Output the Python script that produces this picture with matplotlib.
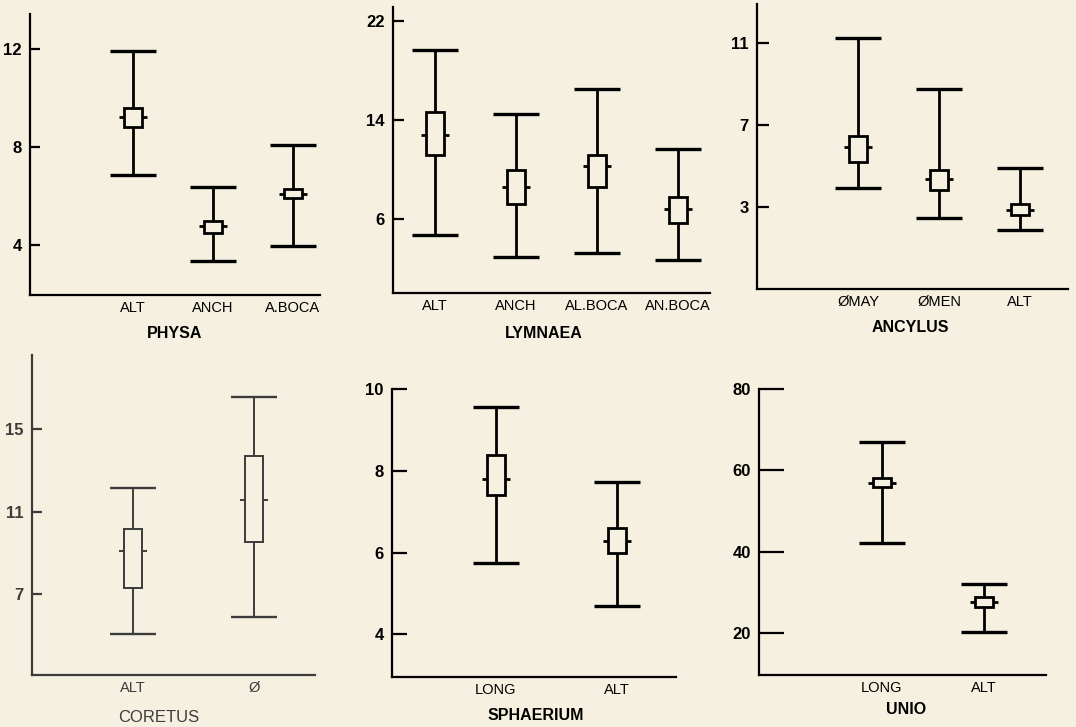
import numpy as np
import matplotlib.pyplot as plt
from matplotlib.patches import Rectangle

plt.rcParams['font.family'] = ['Liberation Sans', 'DejaVu Sans']

W, H = 1076, 727
BG = '#f5f0df'

# --- data: min, box low, mean, box high, max ---
physa_cats = ['ALT', 'ANCH', 'A.BOCA']
physa_min = [6.87, 3.35, 3.97]
physa_q1 = [8.83, 4.5, 5.9]
physa_mean = [9.24, 4.79, 6.1]
physa_q3 = [9.6, 4.99, 6.3]
physa_max = [11.93, 6.35, 8.07]

lymnaea_cats = ['ALT', 'ANCH', 'AL.BOCA', 'AN.BOCA']
lymnaea_min = [4.7, 2.97, 3.25, 2.7]
lymnaea_q1 = [11.2, 7.24, 8.6, 5.73]
lymnaea_mean = [12.8, 8.6, 10.28, 6.8]
lymnaea_q3 = [14.65, 9.95, 11.2, 7.78]
lymnaea_max = [19.65, 14.44, 16.47, 11.7]

ancylus_cats = ['ØMAY', 'ØMEN', 'ALT']
ancylus_min = [3.94, 2.45, 1.88]
ancylus_q1 = [5.18, 3.83, 2.61]
ancylus_mean = [5.91, 4.36, 2.85]
ancylus_q3 = [6.48, 4.8, 3.15]
ancylus_max = [11.24, 8.75, 4.88]

coretus_cats = ['ALT', 'Ø']
coretus_min = [5.07, 5.88]
coretus_q1 = [7.31, 9.53]
coretus_mean = [9.07, 11.58]
coretus_q3 = [10.14, 13.7]
coretus_max = [12.13, 16.55]

sphaerium_cats = ['LONG', 'ALT']
sphaerium_min = [5.75, 4.7]
sphaerium_q1 = [7.41, 6.0]
sphaerium_mean = [7.8, 6.29]
sphaerium_q3 = [8.38, 6.6]
sphaerium_max = [9.55, 7.72]

unio_cats = ['LONG', 'ALT']
unio_min = [42.2, 20.2]
unio_q1 = [55.8, 26.5]
unio_mean = [57.0, 27.7]
unio_q3 = [58.1, 28.8]
unio_max = [67.0, 32.1]

physa_ticks = [4, 8, 12]
lymnaea_ticks = [6, 14, 22]
ancylus_ticks = [3, 7, 11]
coretus_ticks = [7, 11, 15]
sphaerium_ticks = [4, 6, 8, 10]
unio_ticks = [20, 40, 60, 80]

fig = plt.figure(figsize=(W / 100, H / 100), dpi=100, facecolor=BG)


def panel(px, ylim, xlim, cats, lo, q1, mean, q3, hi, ticks, ticklen,
          title, title_xy, color='black', lw=2.0, bold_title=True):
    x0, x1, ytop, ybot = px
    ax = fig.add_axes([x0 / W, 1 - ybot / H, (x1 - x0) / W, (ybot - ytop) / H])
    ax.set_facecolor(BG)
    ax.set_xlim(*xlim)
    ax.set_ylim(*ylim)
    upx = (xlim[1] - xlim[0]) / (x1 - x0)  # data units per pixel in x
    pos = np.arange(len(cats))
    cap, bw, mw = 23 * upx, 9 * upx, 14 * upx
    for x, a, b, m, c, d in zip(pos, lo, q1, mean, q3, hi):
        ax.vlines(x, a, b, color=color, lw=lw, zorder=2)
        ax.vlines(x, c, d, color=color, lw=lw, zorder=2)
        ax.hlines([a, d], x - cap, x + cap, color=color, lw=lw * 1.2, zorder=2)
        ax.hlines(m, x - mw, x + mw, color=color, lw=lw, zorder=2)
        ax.add_patch(Rectangle((x - bw, b), 2 * bw, c - b, facecolor=BG,
                               edgecolor=color, lw=lw, zorder=3))
    for s in ['top', 'right']:
        ax.spines[s].set_visible(False)
    for s in ['left', 'bottom']:
        ax.spines[s].set_linewidth(1.6)
        ax.spines[s].set_color(color)
    ax.set_yticks(ticks)
    ax.set_yticklabels([str(t) for t in ticks], fontsize=12, fontweight='bold',
                       color=color)
    ax.tick_params(axis='y', direction='in', length=ticklen, width=1.6,
                   pad=6, color=color)
    ax.set_xticks(pos)
    ax.set_xticklabels(cats, fontsize=10.5, color=color)
    ax.tick_params(axis='x', length=0, pad=4)
    fig.text(title_xy[0] / W, 1 - title_xy[1] / H, title, ha='center',
             va='center', fontsize=11.5 if bold_title else 12,
             fontweight='bold' if bold_title else 'normal', color=color)
    return ax


panel((30, 320, 14, 295), (1.96, 13.43), (-1.29, 2.34), physa_cats,
      physa_min, physa_q1, physa_mean, physa_q3, physa_max, physa_ticks, 7,
      'PHYSA', (175, 333))
panel((393, 710, 7, 293), (0.06, 23.1), (-0.52, 3.4), lymnaea_cats,
      lymnaea_min, lymnaea_q1, lymnaea_mean, lymnaea_q3, lymnaea_max,
      lymnaea_ticks, 8, 'LYMNAEA', (544, 333))
panel((757, 1068, 4, 289), (-1.0, 12.9), (-1.25, 2.59), ancylus_cats,
      ancylus_min, ancylus_q1, ancylus_mean, ancylus_q3, ancylus_max,
      ancylus_ticks, 8.5, 'ANCYLUS', (910, 328))
panel((32, 315, 355, 675), (3.08, 18.6), (-0.83, 1.5), coretus_cats,
      coretus_min, coretus_q1, coretus_mean, coretus_q3, coretus_max,
      coretus_ticks, 7, 'CORETUS', (159, 718), color='#3c3c3c', lw=1.4,
      bold_title=False)
panel((392, 676, 389, 677), (2.96, 10.0), (-0.86, 1.49), sphaerium_cats,
      sphaerium_min, sphaerium_q1, sphaerium_mean, sphaerium_q3, sphaerium_max,
      sphaerium_ticks, 11, 'SPHAERIUM', (536, 715))
panel((759, 1046, 389, 675), (9.7, 80.0), (-1.2, 1.61), unio_cats,
      unio_min, unio_q1, unio_mean, unio_q3, unio_max, unio_ticks, 18,
      'UNIO', (906, 710))

fig.savefig('out.png', dpi=100, facecolor=BG)
